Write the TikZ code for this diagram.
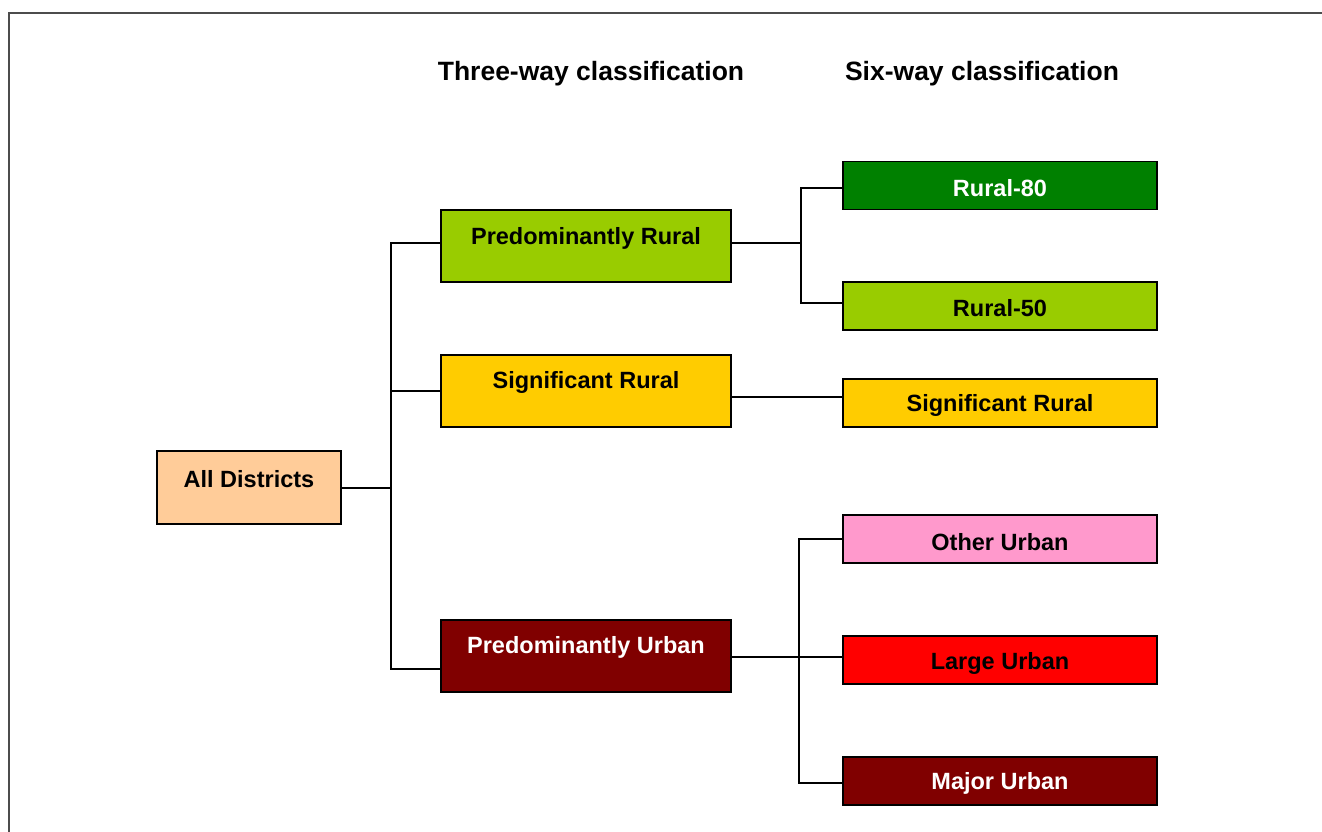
\documentclass[tikz,border=0pt]{standalone}
\usepackage{fontspec}
\setmainfont{Liberation Sans}
\begin{document}
\begin{tikzpicture}[x=1pt,y=-1pt,
  box/.style={draw=black,line width=1.8pt,inner sep=0pt,minimum width=#1},
  boxa/.style={box=290pt,minimum height=72pt},
  boxb/.style={box=314pt,minimum height=48pt},
  lbl/.style={font=\fontsize{23.5}{26}\selectfont\bfseries,inner sep=0pt,anchor=center,yshift=-2pt},
  head/.style={font=\fontsize{26.5}{30}\selectfont\bfseries,inner sep=0pt,yshift=-3pt},
  wire/.style={draw=black,line width=1.8pt,line cap=rect}]
\useasboundingbox (0,0) rectangle (1322,832);
\fill[white] (0,0) rectangle (1322,832);
% outer frame
\draw[line width=2pt,draw=black!70] (9,840) -- (9,13) -- (1330,13);

% column headings
\node[head] (h3) at (591,71) {Three-way classification};
\node[head] (h6) at (982,71) {Six-way classification};

% boxes
\node[box=184pt,minimum height=73pt,fill={rgb,255:red,255;green,204;blue,153}] (ad) at (249,487.5) {};
\node[boxa,fill={rgb,255:red,153;green,204;blue,0}] (pr) at (586,246) {};
\node[boxa,fill={rgb,255:red,255;green,204;blue,0}] (sr) at (586,391) {};
\node[boxa,fill={rgb,255:red,128;green,0;blue,0}] (pu) at (586,656) {};

\node[boxb,fill={rgb,255:red,0;green,128;blue,0}] (r80) at (1000,185.5) {};
\node[boxb,fill={rgb,255:red,153;green,204;blue,0}] (r50) at (1000,306) {};
\node[boxb,fill={rgb,255:red,255;green,204;blue,0}] (sr6) at (1000,403) {};
\node[boxb,fill={rgb,255:red,255;green,153;blue,204}] (ou) at (1000,539) {};
\node[boxb,fill={rgb,255:red,255;green,0;blue,0}] (lu) at (1000,660) {};
\node[boxb,fill={rgb,255:red,128;green,0;blue,0}] (mu) at (1000,781) {};

% box texts
\node[lbl] (tad) at (249,477) {All Districts};
\node[lbl] (tpr) at (586,236) {Predominantly Rural};
\node[lbl] (tsr) at (586,380) {Significant Rural};
\node[lbl,text=white] (tpu) at (586,645) {Predominantly Urban};
\node[lbl,text=white] (tr80) at (1000,186) {Rural-80};
\node[lbl] (tr50) at (1000,306) {Rural-50};
\node[lbl] (tsr6) at (1000,403) {Significant Rural};
\node[lbl] (tou) at (1000,540) {Other Urban};
\node[lbl] (tlu) at (1000,661) {Large Urban};
\node[lbl,text=white] (tmu) at (1000,781) {Major Urban};

% junction points
\coordinate (ja) at (391,488);
\coordinate (ja1) at (391,243);
\coordinate (ja2) at (391,391);
\coordinate (ja3) at (391,669);
\coordinate (jr) at (801,243);
\coordinate (jr1) at (801,188);
\coordinate (jr2) at (801,303);
\coordinate (ju) at (799,657);
\coordinate (ju1) at (799,539);
\coordinate (ju3) at (799,783);

% connectors
\draw[wire] (ad.east |- ja) -- (ja);
\draw[wire] (ja1) -- (ja3);
\draw[wire] (ja1) -- (ja1 -| pr.west);
\draw[wire] (ja2) -- (ja2 -| sr.west);
\draw[wire] (ja3) -- (ja3 -| pu.west);

\draw[wire] (pr.east |- jr) -- (jr);
\draw[wire] (jr1) -- (jr2);
\draw[wire] (jr1) -- (jr1 -| r80.west);
\draw[wire] (jr2) -- (jr2 -| r50.west);

\draw[wire] (sr.east |- 0,397) -- (sr6.west |- 0,397);

\draw[wire] (pu.east |- ju) -- (ju);
\draw[wire] (ju1) -- (ju3);
\draw[wire] (ju1) -- (ju1 -| ou.west);
\draw[wire] (ju) -- (ju -| lu.west);
\draw[wire] (ju3) -- (ju3 -| mu.west);
\end{tikzpicture}
\end{document}
